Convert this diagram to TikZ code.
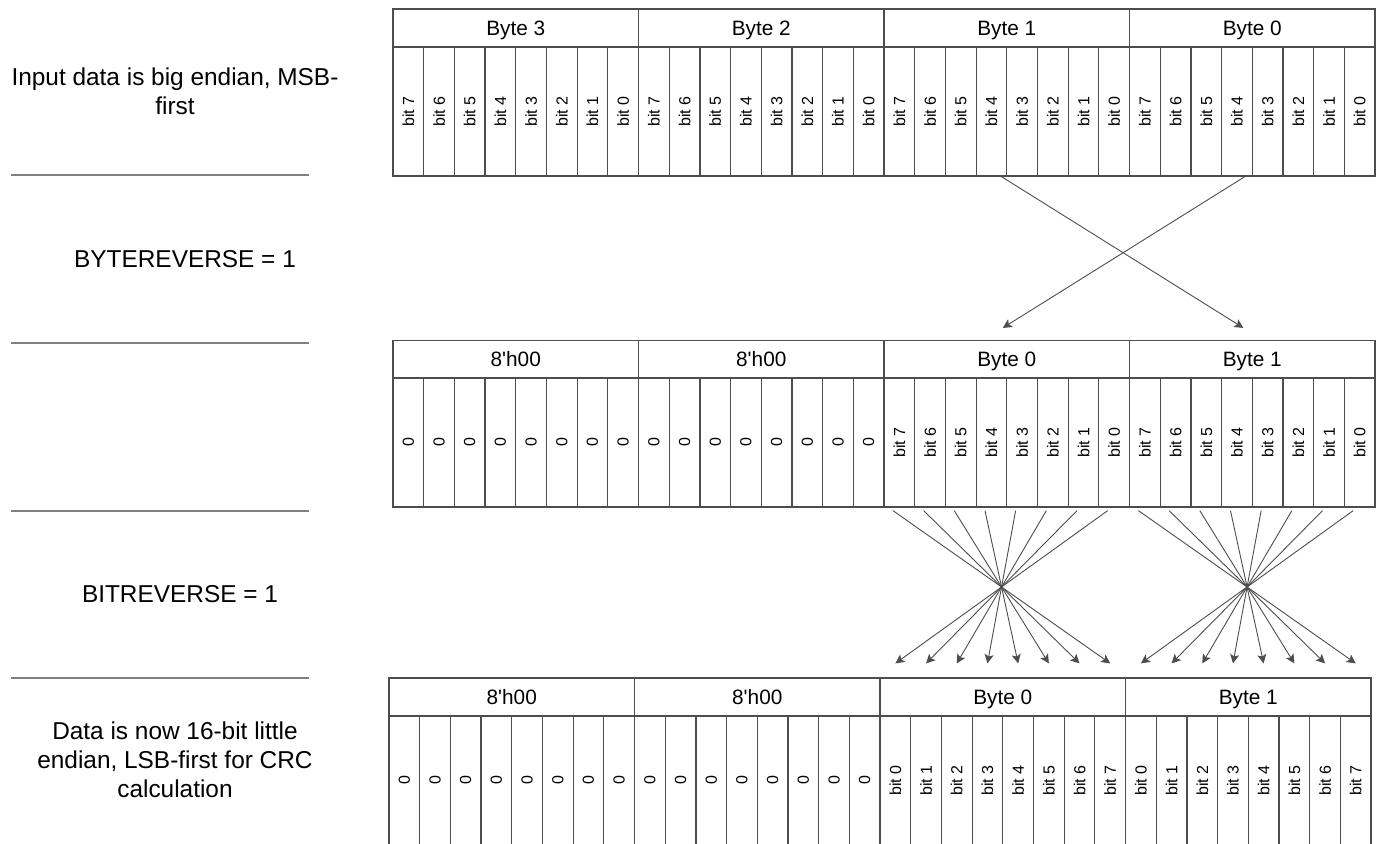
\documentclass[tikz,border=0pt]{standalone}
\usepackage{graphicx}
\usepackage{fontspec}
\setmainfont{Liberation Sans}[Ligatures=TeXOff]
\usetikzlibrary{arrows.meta}
\definecolor{LineGrey}{HTML}{4D4D4D}
\definecolor{RuleGrey}{HTML}{808080}
\tikzset{bytecell/.style={draw=LineGrey,line width=.6pt,minimum width=122.76pt,minimum height=19pt,inner sep=0pt,text height=7.5pt,text depth=0pt,font=\fontsize{10.4}{12}\selectfont},
  bitcell/.style={draw=LineGrey,line width=.6pt,minimum width=15.345pt,minimum height=64.5pt,inner sep=0pt,font=\fontsize{8}{9.6}\selectfont},
  note/.style={align=center,font=\fontsize{12.2}{14.5}\selectfont},
  rule/.style={RuleGrey,line width=.6pt},
  arr/.style={-{Stealth[length=4.5pt,width=4.5pt,inset=1pt]},LineGrey,line width=.45pt}}
\begin{document}
\begin{tikzpicture}[x=.5pt,y=-.5pt]
\useasboundingbox (0,0) rectangle (1377,844);
% notes on the left
\node[note] (inNote) at (175,91) {Input data is big endian, MSB-\\first};
\node[note] (byteNote) at (185,259) {BYTEREVERSE = 1};
\node[note] (bitNote) at (180,594) {BITREVERSE = 1};
\node[note] (outNote) at (175,760) {Data is now 16-bit little\\endian, LSB-first for CRC\\calculation};
\draw[rule] (11,175) -- (309,175);
\draw[rule] (11,343) -- (309,343);
\draw[rule] (11,511) -- (309,511);
\draw[rule] (11,678) -- (309,678);
% input word
\foreach \j/\t in {0/Byte 3,1/Byte 2,2/Byte 1,3/Byte 0}
  \node[bytecell] (inH\j) at ({393+(8*\j+4)*30.69},28) {\t};
\foreach \k in {0,...,31}{
  \pgfmathtruncatemacro\b{7-mod(\k,8)}
  \node[bitcell] (in\k) at ({393+(\k+.5)*30.69},111.5) {\rotatebox{90}{bit \b}};
}
% after byte reverse
\foreach \j/\t in {0/8'h00,1/8'h00,2/Byte 0,3/Byte 1}
  \node[bytecell] (bsH\j) at ({393+(8*\j+4)*30.69},359.5) {\t};
\foreach \k in {0,...,31}{
  \pgfmathtruncatemacro\b{7-mod(\k,8)}
  \ifnum\k<16 \def\lbl{0}\else \edef\lbl{bit \b}\fi
  \node[bitcell] (bs\k) at ({393+(\k+.5)*30.69},442.5) {\rotatebox{90}{\lbl}};
}
% after bit reverse
\foreach \j/\t in {0/8'h00,1/8'h00,2/Byte 0,3/Byte 1}
  \node[bytecell] (outH\j) at ({389+(8*\j+4)*30.69},697) {\t};
\foreach \k in {0,...,31}{
  \pgfmathtruncatemacro\b{mod(\k,8)}
  \ifnum\k<16 \def\lbl{0}\else \edef\lbl{bit \b}\fi
  \node[bitcell] (out\k) at ({389+(\k+.5)*30.69},780.5) {\rotatebox{90}{\lbl}};
}
% byte swap
\draw[arr] ([xshift=-3pt]in19.south east) -- ([xshift=-4.5pt,yshift=6pt]bsH3.north);
\draw[arr] ([xshift=-4pt]in27.south east) -- ([xshift=-2pt,yshift=6pt]bsH2.north);
% bit swap
\foreach \k in {16,...,23}{
  \pgfmathtruncatemacro\m{39-\k}
  \draw[arr] ([xshift=-3.25pt,yshift=-1.5pt]bs\k.south) -- ([yshift=26pt]out\m.north);
}
\foreach \k in {24,...,31}{
  \pgfmathtruncatemacro\m{55-\k}
  \draw[arr] ([xshift=-3.25pt,yshift=-1.5pt]bs\k.south) -- ([yshift=26pt]out\m.north);
}
\end{tikzpicture}
\end{document}
